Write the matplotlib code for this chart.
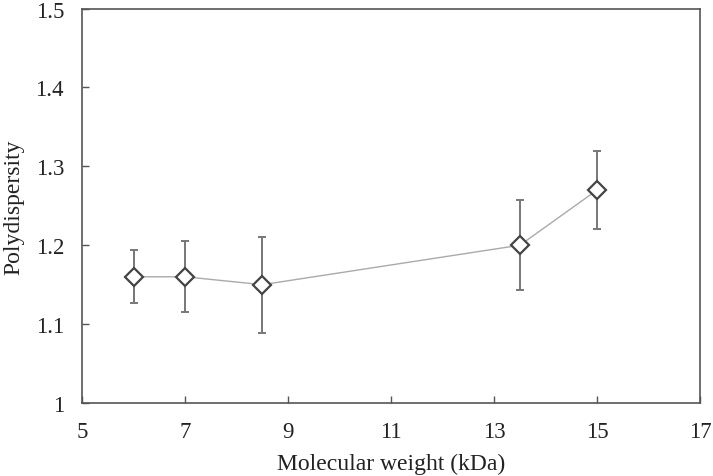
import matplotlib
matplotlib.use("Agg")
import matplotlib.pyplot as plt
import numpy as np

mol_weight = [6, 7, 8.5, 13.5, 15]
polydispersity = [1.16, 1.16, 1.15, 1.20, 1.27]
err_upper = [1.194, 1.205, 1.211, 1.257, 1.320]
err_lower = [1.127, 1.115, 1.089, 1.143, 1.220]
x_ticks = [5, 7, 9, 11, 13, 15, 17]
y_ticks = [1, 1.1, 1.2, 1.3, 1.4, 1.5]
y_tick_labels = ["1", "1.1", "1.2", "1.3", "1.4", "1.5"]

plt.rcParams['font.family'] = ['Liberation Serif', 'DejaVu Serif']

fig = plt.figure(figsize=(7.13, 4.77), dpi=100)
ax = fig.add_axes([0.115, 0.153, 0.867, 0.827])

y = np.array(polydispersity)
yerr = np.vstack([y - np.array(err_lower), np.array(err_upper) - y])

ax.errorbar(mol_weight, y, yerr=yerr, fmt='none', ecolor='#777777',
            elinewidth=1.4, capsize=3, capthick=1.4, zorder=2)
ax.plot(mol_weight, y, color='#aaaaaa', lw=1.0, zorder=3)
ax.plot(mol_weight, y, linestyle='none', marker='D', markersize=9.5,
        markerfacecolor='white', markeredgecolor='#444444', markeredgewidth=1.6,
        zorder=4)

ax.set_xlim(5, 17)
ax.set_ylim(1, 1.5)
ax.set_xticks(x_ticks)
ax.set_yticks(y_ticks)
ax.set_yticklabels(y_tick_labels)
ax.tick_params(direction='in', length=5, width=1, colors='#555555',
               labelcolor='#222222', labelsize=16.5)
ax.tick_params(axis='x', pad=13)
ax.tick_params(axis='y', pad=13)
for s in ax.spines.values():
    s.set_color('#555555')
    s.set_linewidth(1.2)

ax.set_xlabel('Molecular weight (kDa)', fontsize=17, color='#222222', labelpad=8)
ax.set_ylabel('Polydispersity', fontsize=17, color='#222222', labelpad=8)

fig.savefig('out.png', dpi=100)
